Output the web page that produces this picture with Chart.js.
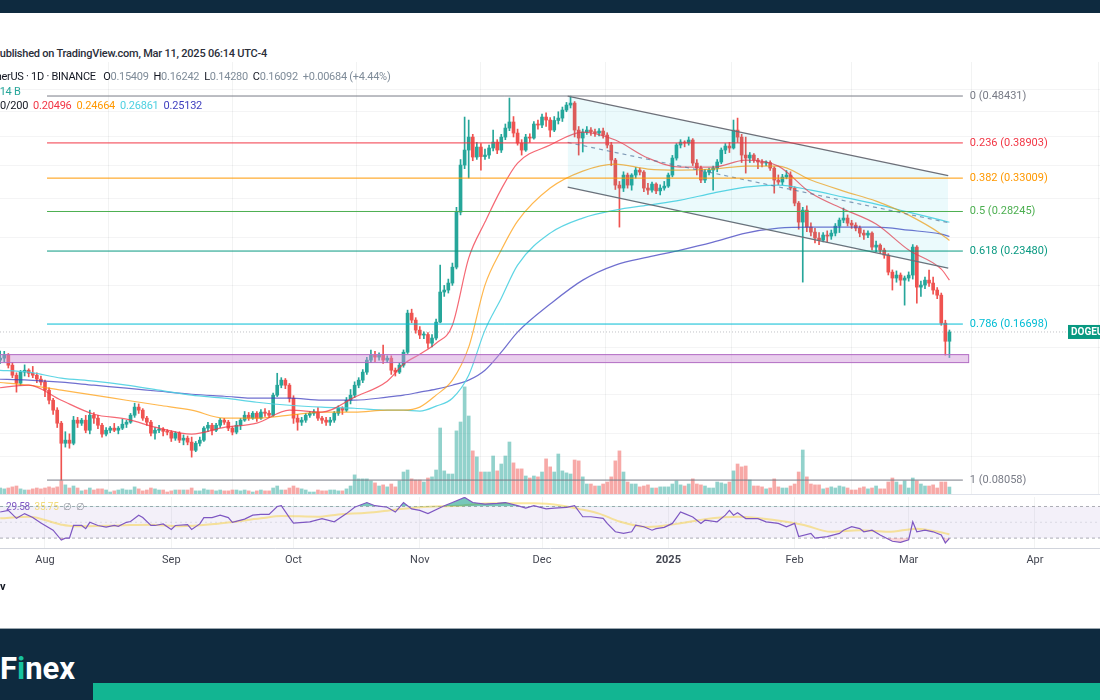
<!DOCTYPE html>
<html>
<head>
<meta charset="utf-8">
<title>DOGEUSDT 1D</title>
<script src="https://cdn.jsdelivr.net/npm/chart.js@4.4.1/dist/chart.umd.min.js"></script>
<style>
  html, body { margin: 0; padding: 0; }
  body { width: 1100px; height: 700px; overflow: hidden; background: #fff; position: relative;
         font-family: Roboto, 'Noto Sans', sans-serif; }
  .band-top { position: absolute; left: 0; top: 0; width: 1100px; height: 13px; background: #0e2a3f; }
  .legend { position: absolute; white-space: nowrap; font-size: 11px; line-height: 14px; color: #131722; z-index: 3; letter-spacing: -0.22px; }
  .val { color: #7f8c99; }
  #priceChart { position: absolute; left: 0; top: 62px; }
  #rsiChart { position: absolute; left: 0; top: 494px; }
  .pane-sep { position: absolute; left: 0; top: 494px; width: 1100px; height: 1px; background: #e0e3eb; z-index: 2; }
  .footer { position: absolute; left: 0; top: 628px; width: 1100px; height: 72px; background: #0e2a3f; border-top: 1px solid #9aa6ae; }
  .logo { position: absolute; left: 0; top: 651px; font-size: 31px; font-weight: 700; color: #fff; line-height: 36px; }
  .logo span { color: #17c3a0; }
  .green-bar { position: absolute; left: 93px; top: 683px; width: 1007px; height: 17px; background: #12b592; }
</style>
</head>
<body>
<div class="band-top"></div>

<div class="legend" style="left:-7px; top:47px; font-weight:500; color:#2a2e39;">Published on TradingView.com, Mar 11, 2025 06:14 UTC-4</div>
<div class="legend" style="left:-19px; top:70px; letter-spacing:-0.27px;">TetherUS · 1D · BINANCE&nbsp;&nbsp; O<span class="val">0.15409</span>&nbsp; H<span class="val">0.16242</span>&nbsp; L<span class="val">0.14280</span>&nbsp; C<span class="val">0.16092</span>&nbsp; <span class="val">+0.00684 (+4.44%)</span></div>
<div class="legend" style="left:-9px; top:85px; color:#26a69a;">3.14 B</div>
<div class="legend" style="left:-12px; top:99px;">100/200&nbsp; <span style="color:#f23645">0.20496</span>&nbsp; <span style="color:#ff9800">0.24664</span>&nbsp; <span style="color:#4dd0e1">0.26861</span>&nbsp; <span style="color:#3f3fbf">0.25132</span></div>

<canvas id="priceChart" width="1100" height="432"></canvas>
<div class="pane-sep"></div>
<canvas id="rsiChart" width="1100" height="80"></canvas>

<div class="legend" style="left:6px; top:500px; font-size:10px; color:#7e57c2;">29.58&nbsp;&nbsp;<span style="color:#f3dc7a">35.75</span>&nbsp;&nbsp;<span style="color:#9598a1">∅&nbsp; ∅</span></div>
<div class="legend" style="left:0; top:580px; font-weight:700;">v</div>

<div class="footer"></div>
<div class="logo">F<span>i</span>nex</div>
<div class="green-bar"></div>

<script>
// daily candles, index 0 = 2024-07-20, last = 2025-03-11
const firstOpen = 0.1390;
const closes = [
  0.1411,0.1424,0.1444,0.1378,0.1315,0.1267,0.1334,0.1346,0.1327,0.1315,0.1291,0.1273,
  0.1226,0.1170,0.1117,0.1051,0.0957,0.0971,0.0957,0.1066,0.1051,0.1066,0.1017,0.1091,0.1076,0.1041,0.0999,0.1017,0.1027,0.1017,0.1027,0.1046,0.1056,0.1091,0.1133,0.1117,0.1076,0.1056,0.1003,0.1017,0.1022,0.1012,0.1008,
  0.0980,0.1003,0.0971,0.0980,0.0962,0.0926,0.0957,0.0971,0.1027,0.1041,0.1017,0.1041,0.1066,0.1056,0.1027,0.1008,0.1041,0.1066,0.1091,0.1076,0.1101,0.1076,0.1107,0.1101,0.1091,0.1198,0.1255,0.1285,0.1255,0.1181,
  0.1076,0.1056,0.1066,0.1091,0.1101,0.1107,0.1076,0.1066,0.1056,0.1066,0.1101,0.1127,0.1117,0.1170,0.1198,0.1255,0.1285,0.1334,0.1411,0.1444,0.1431,0.1444,0.1411,0.1424,0.1346,0.1334,0.1378,0.1464,0.1757,0.1701,0.1623,
  0.1586,0.1590,0.1527,0.1564,0.1685,0.1939,0.1957,0.2022,0.2178,0.2816,0.3508,0.3763,0.3998,0.3642,0.3816,0.3650,0.3676,0.3799,0.3906,0.3763,0.3998,0.4170,0.4290,0.4074,0.3888,0.3763,0.3998,0.3980,0.4249,0.4229,
  0.4390,0.4329,0.4131,0.4320,0.4369,0.4536,0.4643,0.4686,0.4131,0.3980,0.4092,0.4131,0.4100,0.4074,0.4112,0.4036,0.3852,0.3591,0.3195,0.3151,0.3348,0.3195,0.3348,0.3427,0.3395,0.3151,0.3121,0.3210,0.3110,0.3151,0.3180,
  0.3348,0.3625,0.3852,0.3906,0.3888,0.3943,0.3541,0.3459,0.3271,0.3395,0.3427,0.3459,0.3558,0.3763,0.3834,0.3799,0.4131,0.3998,0.3676,0.3625,0.3676,0.3591,0.3558,0.3541,0.3550,0.3459,0.3271,0.3241,0.3317,0.3348,0.3151,
  0.2937,0.2688,0.2843,0.2626,0.2565,0.2495,0.2471,0.2530,0.2518,0.2553,0.2638,0.2713,0.2739,0.2675,0.2650,0.2613,0.2553,0.2530,0.2553,0.2392,0.2414,0.2359,0.2304,0.2128,0.2070,0.2099,0.2050,0.2070,
  0.2099,0.2392,0.1984,0.2003,0.2050,0.2022,0.1957,0.1911,0.1677,0.15409,0.16092
];
const highs = [
  0.1440,0.1471,0.1470,0.1455,0.1395,0.1330,0.1345,0.1380,0.1355,0.1370,0.1330,0.1310,
  0.1285,0.1240,0.1180,0.1130,0.1060,0.1010,0.1000,0.1085,0.1080,0.1075,0.1090,0.1117,0.1105,0.1090,0.1050,0.1030,0.1035,0.1050,0.1035,0.1070,0.1065,0.1100,0.1154,0.1150,0.1125,0.1085,0.1065,0.1030,0.1040,0.1030,0.1020,
  0.1015,0.1010,0.1010,0.0995,0.0990,0.0985,0.0965,0.0985,0.1035,0.1055,0.1050,0.1050,0.1075,0.1075,0.1065,0.1035,0.1060,0.1075,0.1110,0.1105,0.1110,0.1110,0.1120,0.1125,0.1115,0.1210,0.1327,0.1300,0.1295,0.1265,
  0.1195,0.1095,0.1080,0.1100,0.1110,0.1120,0.1130,0.1085,0.1080,0.1080,0.1110,0.1140,0.1135,0.1185,0.1230,0.1275,0.1300,0.1350,0.1430,0.1478,0.1470,0.1460,0.1513,0.1440,0.1440,0.1360,0.1390,0.1480,0.1782,0.1790,0.1720,
  0.1650,0.1610,0.1605,0.1590,0.1710,0.2199,0.2000,0.2060,0.2220,0.2880,0.3600,0.4390,0.4329,0.4050,0.3900,0.3880,0.3780,0.3850,0.4131,0.3950,0.4050,0.4250,0.4798,0.4400,0.4150,0.3950,0.4050,0.4060,0.4300,0.4330,
  0.4450,0.4480,0.4380,0.4400,0.4500,0.4600,0.4700,0.4843,0.4720,0.4200,0.4150,0.4200,0.4180,0.4150,0.4160,0.4170,0.4080,0.3900,0.3620,0.3250,0.3400,0.3380,0.3370,0.3470,0.3460,0.3420,0.3220,0.3240,0.3230,0.3200,0.3250,
  0.3380,0.3670,0.3880,0.3950,0.3930,0.4000,0.3970,0.3600,0.3490,0.3440,0.3460,0.3490,0.3600,0.3800,0.3880,0.3900,0.4329,0.4369,0.4050,0.3998,0.3720,0.3700,0.3620,0.3600,0.3580,0.3580,0.3480,0.3350,0.3360,0.3420,0.3400,
  0.3170,0.2960,0.2880,0.2900,0.2680,0.2610,0.2560,0.2560,0.2580,0.2590,0.2670,0.2740,0.2870,0.2780,0.2710,0.2680,0.2640,0.2590,0.2580,0.2570,0.2460,0.2430,0.2380,0.2320,0.2150,0.2140,0.2120,0.2090,
  0.2130,0.2420,0.2410,0.2040,0.2080,0.2148,0.2079,0.1980,0.1930,0.1700,0.16242
];
const lows = [
  0.1370,0.1390,0.1400,0.1360,0.1300,0.1215,0.1255,0.1310,0.1305,0.1300,0.1270,0.1255,
  0.1190,0.1150,0.1095,0.1030,0.0806,0.0940,0.0935,0.0950,0.1030,0.1040,0.1005,0.1000,0.1050,0.1025,0.0985,0.0990,0.1005,0.1010,0.1000,0.1020,0.1030,0.1050,0.1080,0.1100,0.1065,0.1040,0.0990,0.0975,0.1005,0.0990,0.0995,
  0.0965,0.0970,0.0960,0.0950,0.0950,0.0897,0.0920,0.0945,0.0965,0.1010,0.0995,0.1010,0.1030,0.1045,0.1015,0.0995,0.1000,0.1020,0.1060,0.1065,0.1070,0.1060,0.1070,0.1085,0.1080,0.1085,0.1190,0.1240,0.1235,0.1160,
  0.1050,0.1017,0.1040,0.1055,0.1080,0.1090,0.1065,0.1050,0.1040,0.1040,0.1055,0.1090,0.1095,0.1110,0.1150,0.1185,0.1240,0.1270,0.1320,0.1395,0.1400,0.1410,0.1390,0.1395,0.1320,0.1310,0.1325,0.1365,0.1455,0.1680,0.1600,
  0.1560,0.1560,0.1492,0.1500,0.1550,0.1680,0.1900,0.1930,0.2000,0.2160,0.2780,0.3450,0.3302,0.3580,0.3600,0.3427,0.3600,0.3620,0.3750,0.3700,0.3720,0.3950,0.4120,0.4000,0.3850,0.3676,0.3740,0.3900,0.3960,0.4150,
  0.4180,0.4200,0.4000,0.4100,0.4250,0.4300,0.4500,0.4580,0.4000,0.3676,0.3729,0.4050,0.4030,0.4010,0.4020,0.3980,0.3800,0.3500,0.3130,0.2626,0.3100,0.3150,0.3120,0.3300,0.3350,0.3100,0.3060,0.3090,0.3070,0.3050,0.3120,
  0.3160,0.3320,0.3590,0.3800,0.3820,0.3850,0.3500,0.3350,0.3230,0.3230,0.3350,0.3121,0.3400,0.3530,0.3700,0.3720,0.3780,0.3900,0.3550,0.3379,0.3550,0.3550,0.3450,0.3480,0.3500,0.3420,0.3077,0.3200,0.3200,0.3290,0.3120,
  0.2900,0.2600,0.2031,0.2570,0.2520,0.2440,0.2420,0.2450,0.2450,0.2480,0.2520,0.2560,0.2680,0.2640,0.2610,0.2580,0.2510,0.2480,0.2500,0.2360,0.2340,0.2320,0.2270,0.2100,0.1957,0.2030,0.2000,0.1824,
  0.2040,0.2060,0.1841,0.1900,0.1970,0.1990,0.1920,0.1880,0.1660,0.1444,0.1428
];
// volume, billions of DOGE
const volumes = [
  2.3,2.7,2.3,2.7,3.2,3.6,2.3,1.8,1.8,2.3,2.7,2.3,
  2.7,3.2,2.7,3.2,5.9,4.1,2.7,3.6,2.7,1.4,1.8,2.7,1.8,2.3,2.3,1.8,0.9,1.4,1.8,2.3,1.8,1.8,3.2,2.3,1.4,1.8,2.7,2.3,1.8,1.8,0.9,
  1.4,1.8,1.8,1.8,1.8,2.7,1.4,1.4,2.3,1.8,1.8,1.4,1.8,1.4,1.4,1.8,1.8,1.4,1.8,1.4,0.9,1.4,1.8,1.4,1.4,2.7,3.6,1.8,1.8,2.7,
  3.6,2.7,2.3,1.8,0.9,0.9,1.8,1.4,1.4,1.8,1.8,1.4,1.4,2.3,3.6,8.6,6.8,6.8,6.8,5.9,5.0,3.6,4.1,3.2,4.5,3.2,5.9,9.9,10.8,6.8,6.3,
  6.3,5.4,7.2,7.7,10.8,29.7,10.4,9.0,9.0,28.4,32.4,48.2,35.1,19.4,16.7,9.9,9.9,9.9,17.1,10.4,13.5,17.1,23.4,14.0,11.3,11.3,8.1,7.2,8.1,7.7,
  9.9,15.8,12.2,9.9,18.0,10.4,9.5,9.0,15.3,14.9,7.7,4.5,4.5,3.6,3.6,4.5,5.4,7.7,14.9,19.4,9.9,5.4,4.5,4.5,3.2,3.6,4.1,2.7,2.7,3.2,3.2,
  3.2,4.5,5.9,4.1,3.6,4.5,6.8,4.5,4.1,3.6,2.7,2.7,5.4,5.0,4.5,5.4,10.4,13.5,12.2,12.6,6.3,3.6,3.6,3.2,2.3,2.7,6.8,3.2,2.7,2.7,3.6,
  4.5,9.9,19.8,7.7,4.5,4.1,4.1,2.3,2.7,3.2,2.7,3.6,3.2,2.7,1.8,1.8,2.7,3.2,2.3,2.7,3.6,2.3,2.3,5.4,7.2,5.4,4.1,5.9,
  2.7,7.2,5.9,4.5,3.6,3.6,4.1,2.7,5.4,5.4,3.14
];

// moving averages (day index, price)
const maDays = [0,8,16,24,32,40,48,56,64,72,80,88,96,100,104,108,112,116,120,124,128,136,144,152,160,168,176,184,192,200,208,216,224,232,234];
const ma20 = [0.1238,0.1255,0.1170,0.1096,0.1071,0.1027,0.0999,0.1031,0.1051,0.1117,0.1107,0.1187,0.1279,0.1384,0.1451,0.1527,0.1661,0.2272,0.2688,0.3136,0.3541,0.3852,0.4092,0.3943,0.3625,0.3475,0.3475,0.3591,0.3491,0.3078,0.2856,0.2663,0.2359,0.2158,0.20496];
const ma50 = [0.1273,0.1255,0.1226,0.1198,0.1170,0.1143,0.1117,0.1076,0.1076,0.1091,0.1107,0.1107,0.1117,0.1117,0.1133,0.1198,0.1285,0.1499,0.2003,0.2359,0.2700,0.3151,0.3411,0.3524,0.3443,0.3427,0.3443,0.3491,0.3491,0.3271,0.3107,0.2965,0.2777,0.2541,0.24664];
const ma100 = [0.1346,0.1334,0.1297,0.1279,0.1255,0.1226,0.1198,0.1181,0.1159,0.1143,0.1133,0.1127,0.1117,0.1117,0.1112,0.1138,0.1181,0.1315,0.1623,0.1884,0.2199,0.2553,0.2739,0.2843,0.2910,0.2979,0.3078,0.3165,0.3195,0.3121,0.3021,0.2924,0.2816,0.2713,0.26861];
const ma200 = [0.1291,0.1285,0.1273,0.1255,0.1238,0.1220,0.1203,0.1192,0.1181,0.1181,0.1170,0.1170,0.1187,0.1198,0.1215,0.1232,0.1255,0.1285,0.1346,0.1464,0.1608,0.1833,0.2050,0.2199,0.2282,0.2359,0.2448,0.2553,0.2613,0.2626,0.2626,0.2626,0.2589,0.2541,0.25132];

// RSI 14 and its moving average
const rsiDays = [1,3,5,7,9,11,14,16,17,18,19,21,22,23,25,27,29,30,32,33,35,36,38,39,41,43,44,47,48,50,51,53,55,57,58,61,63,65,67,69,70,72,73,77,80,83,86,88,91,93,96,98,100,102,104,106,110,112,115,117,120,123,125,128,130,132,135,137,140,142,144,146,149,150,152,154,156,157,159,161,162,164,166,168,169,171,173,174,177,179,180,181,182,184,187,189,192,194,196,197,200,201,204,207,208,210,212,213,215,217,220,222,224,225,226,228,230,232,233,234];
const rsiValues = [63,65,55,61,56,49,40,27.5,30,30,46,46,42,50,46,44,46,45,50,51,59,56,46,46,48,41,46,47,41,48,56,56,59,56,50,54,59,60,60,70,71,56,49,50.6,54.7,50.6,61,69,75,71,69,63,75,67,65,61,71,75,81.5,75,73,74,75,71,68,71,67,68,69,71,57,57,55,48.6,38,36,38,46.5,44.4,40,42,43.6,48.6,63,61,56.8,48.6,52.7,50.6,59,65,59,62,54.7,54.7,50.6,48.6,44.4,48.6,32,36,30,32,36,40,44.4,42,38,40,34,26,24.6,28,50.6,38,40,38,34,24,29.58];
const rsiMaDays = [1,8,16,19,30,38,45,54,65,70,79,84,91,98,104,113,122,132,139,143,148,153,160,167,174,182,191,198,205,212,219,226,233,234];
const rsiMaValues = [55,57,47,45,46,47,45,48,55,58,57,60,62,66,69,71,74,74,71,67,61,51,44,48,54,57,53,47,38,40,38,42,36,35];
const rsiLevels = [70, 50, 30];

// drawings
const fibRatios = [0, 0.236, 0.382, 0.5, 0.618, 0.786, 1];
const fibPrices = [0.48431, 0.38903, 0.33009, 0.28245, 0.23480, 0.16698, 0.08058];
const fibDays = [12.5, 237.3];
const channelDays = [140.3, 233.7];
const channelUpper = [0.4840, 0.3340];
const channelMid = [0.3900, 0.2681];
const channelLower = [0.3165, 0.2168];
const zoneDays = [0, 238.6];
const zonePrices = [0.1398, 0.1451];
const lastClose = 0.16092;

const monthTickDays = [12, 43, 73, 104, 134, 165, 196, 224, 255];
const monthTickLabels = ['Aug', 'Sep', 'Oct', 'Nov', 'Dec', '2025', 'Feb', 'Mar', 'Apr'];

// visible window (day index) and price window
const viewDays = [0.957, 270.96];
const viewPrice = [0.07551, 0.5677];

Chart.defaults.font.family = "Roboto, 'Noto Sans', sans-serif";
Chart.defaults.animation = false;
Chart.defaults.plugins.legend.display = false;
Chart.defaults.plugins.tooltip.enabled = false;

const UP = '#26a69a';
const DOWN = '#ef5350';
const fibColors = ['#787b86', '#f23645', '#ff9800', '#4caf50', '#089981', '#00bcd4', '#787b86'];

const days = closes.map((_, i) => i);
const opens = closes.map((c, i) => (i === 0 ? firstOpen : closes[i - 1]));
const candleColors = closes.map((c, i) => (c >= opens[i] ? UP : DOWN));
const volColors = closes.map((c, i) => (c >= opens[i] ? 'rgba(38,166,154,0.5)' : 'rgba(239,83,80,0.5)'));
const pts = (xs, ys) => xs.map((d, k) => ({ x: d, y: ys[k] }));

function maLine(label, values, color) {
    return {
        type: 'line', label, data: pts(maDays, values), yAxisID: 'y',
        borderColor: color, borderWidth: 1.2, pointRadius: 0,
        cubicInterpolationMode: 'monotone', order: 5
    };
}

const priceOverlays = {
    id: 'priceOverlays',
    afterDatasetsDraw(chart) {
        const { ctx, scales: { x, y } } = chart;
        ctx.save();

        // support zone box
        const bx0 = x.getPixelForValue(zoneDays[0]);
        const bx1 = x.getPixelForValue(zoneDays[1]);
        const by0 = y.getPixelForValue(zonePrices[1]);
        const by1 = y.getPixelForValue(zonePrices[0]);
        ctx.fillStyle = 'rgba(206,147,216,0.45)';
        ctx.fillRect(bx0, by0, bx1 - bx0, by1 - by0);
        ctx.strokeStyle = '#b26cc4';
        ctx.lineWidth = 1;
        ctx.strokeRect(bx0 + 0.5, by0 + 0.5, bx1 - bx0, by1 - by0);

        // fib labels
        ctx.font = "11px Roboto, 'Noto Sans', sans-serif";
        ctx.textBaseline = 'middle';
        const lx = x.getPixelForValue(fibDays[1]) + 7;
        fibRatios.forEach((r, k) => {
            ctx.fillStyle = fibColors[k];
            ctx.fillText(`${r} (${fibPrices[k].toFixed(5)})`, lx, y.getPixelForValue(fibPrices[k]));
        });

        // symbol tag on the price scale
        const ty = y.getPixelForValue(lastClose);
        ctx.fillStyle = '#089981';
        ctx.fillRect(1068, ty - 7, 40, 14);
        ctx.fillStyle = '#fff';
        ctx.font = "bold 10px Roboto, 'Noto Sans', sans-serif";
        ctx.fillText('DOGEUSDT', 1071, ty + 0.5);
        ctx.restore();
    }
};

const hidden = { ticks: { display: false }, border: { display: false } };

new Chart(document.getElementById('priceChart'), {
    type: 'bar',
    data: {
        datasets: [
            {
                label: 'Volume', data: days.map(i => ({ x: i, y: volumes[i] })), yAxisID: 'yVol',
                backgroundColor: volColors, barThickness: 3, grouped: false, order: 20
            },
            {
                label: 'Wicks', data: days.map(i => ({ x: i, y: [lows[i], highs[i]] })), yAxisID: 'y',
                backgroundColor: candleColors, barThickness: 1, grouped: false, order: 10
            },
            {
                label: 'Bodies', data: days.map(i => ({ x: i, y: [opens[i], closes[i]] })), yAxisID: 'y',
                backgroundColor: candleColors, barThickness: 3, minBarLength: 1, grouped: false, order: 9
            },
            maLine('MA 20', ma20, 'rgba(242,54,69,0.75)'),
            maLine('MA 50', ma50, 'rgba(255,152,0,0.7)'),
            maLine('MA 100', ma100, 'rgba(77,208,225,0.9)'),
            maLine('MA 200', ma200, 'rgba(63,63,191,0.75)'),
            {
                type: 'line', label: 'Channel top', data: pts(channelDays, channelUpper), yAxisID: 'y',
                borderColor: '#6d7079', borderWidth: 1.4, pointRadius: 0,
                fill: '+1', backgroundColor: 'rgba(0,188,212,0.08)', order: 2
            },
            {
                type: 'line', label: 'Channel bottom', data: pts(channelDays, channelLower), yAxisID: 'y',
                borderColor: '#6d7079', borderWidth: 1.4, pointRadius: 0, order: 2
            },
            {
                type: 'line', label: 'Channel middle', data: pts(channelDays, channelMid), yAxisID: 'y',
                borderColor: 'rgba(90,110,150,0.7)', borderWidth: 1.2, borderDash: [4, 4], pointRadius: 0, order: 2
            },
            ...fibPrices.map((p, k) => ({
                type: 'line', label: `Fib ${fibRatios[k]}`, data: pts(fibDays, [p, p]), yAxisID: 'y',
                borderColor: fibColors[k], borderWidth: 1, pointRadius: 0, order: 1
            })),
            {
                type: 'line', label: 'Last price', data: pts(viewDays, [lastClose, lastClose]), yAxisID: 'y',
                borderColor: 'rgba(120,123,134,0.45)', borderWidth: 1, borderDash: [1, 2], pointRadius: 0, order: 1
            }
        ]
    },
    options: {
        responsive: false,
        devicePixelRatio: 1,
        layout: { padding: 0 },
        scales: {
            x: {
                type: 'linear', min: viewDays[0], max: viewDays[1], offset: false, ...hidden,
                grid: { color: 'rgba(42,46,57,0.06)', drawTicks: false },
                afterBuildTicks: s => { s.ticks = monthTickDays.map(v => ({ value: v })); },
                afterFit: s => { s.height = 0; }
            },
            y: {
                type: 'logarithmic', min: viewPrice[0], max: viewPrice[1], ...hidden,
                grid: { color: 'rgba(42,46,57,0.05)', drawTicks: false },
                afterBuildTicks: s => { s.ticks = [0.09, 0.1, 0.12, 0.15, 0.2, 0.25, 0.3, 0.35, 0.4, 0.45, 0.5].map(v => ({ value: v })); },
                afterFit: s => { s.width = 0; }
            },
            yVol: { type: 'linear', min: 0, max: 194.4, display: false }
        }
    },
    plugins: [priceOverlays]
});

new Chart(document.getElementById('rsiChart'), {
    type: 'line',
    data: {
        datasets: [
            {
                label: 'RSI', data: pts(rsiDays, rsiValues), borderColor: '#7e57c2', borderWidth: 1.2,
                pointRadius: 0, fill: { target: { value: 70 }, above: 'rgba(8,153,129,0.55)', below: 'rgba(0,0,0,0)' }, order: 1
            },
            {
                label: 'RSI oversold', data: pts(rsiDays, rsiValues), borderColor: 'rgba(0,0,0,0)', borderWidth: 1,
                pointRadius: 0, fill: { target: { value: 30 }, above: 'rgba(0,0,0,0)', below: 'rgba(242,54,69,0.2)' }, order: 2
            },
            {
                label: 'RSI MA', data: pts(rsiMaDays, rsiMaValues), borderColor: 'rgba(247,208,60,0.5)', borderWidth: 2,
                pointRadius: 0, cubicInterpolationMode: 'monotone', order: 3
            },
            {
                label: 'Upper band', data: pts(viewDays, [rsiLevels[0], rsiLevels[0]]), borderColor: 'rgba(120,123,134,0.6)',
                borderWidth: 1, borderDash: [3, 3], pointRadius: 0, fill: '+1', backgroundColor: 'rgba(126,87,194,0.09)', order: 5
            },
            {
                label: 'Lower band', data: pts(viewDays, [rsiLevels[2], rsiLevels[2]]), borderColor: 'rgba(120,123,134,0.6)',
                borderWidth: 1, borderDash: [3, 3], pointRadius: 0, order: 5
            },
            {
                label: 'Middle band', data: pts(viewDays, [rsiLevels[1], rsiLevels[1]]), borderColor: 'rgba(120,123,134,0.2)',
                borderWidth: 1, borderDash: [2, 3], pointRadius: 0, order: 5
            }
        ]
    },
    options: {
        responsive: false,
        devicePixelRatio: 1,
        layout: { padding: { top: 3, bottom: 0, left: 0, right: 0 } },
        scales: {
            x: {
                type: 'linear', min: viewDays[0], max: viewDays[1], offset: false,
                grid: { color: 'rgba(42,46,57,0.06)', drawTicks: false },
                border: { display: true, color: '#d1d4dc' },
                afterBuildTicks: s => { s.ticks = monthTickDays.map(v => ({ value: v })); },
                afterFit: s => { s.height = 26; },
                ticks: {
                    autoSkip: false, maxRotation: 0, padding: 6, color: '#434651',
                    font: c => ({ size: 11, weight: c.tick && c.tick.label === '2025' ? 'bold' : 'normal' }),
                    callback: v => monthTickLabels[monthTickDays.indexOf(v)]
                }
            },
            y: { min: 17.5, max: 82, display: false }
        }
    }
});
</script>
</body>
</html>
